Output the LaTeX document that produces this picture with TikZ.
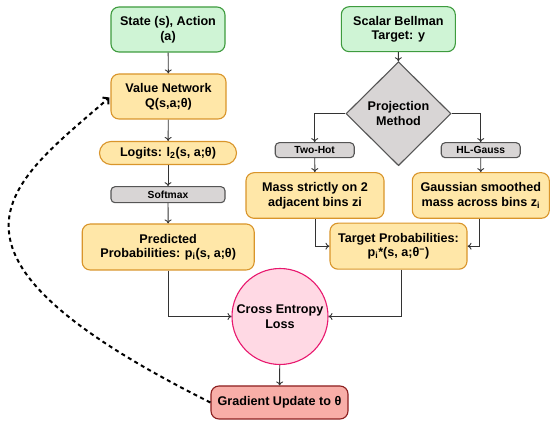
\documentclass[tikz,border=0pt]{standalone}
\usepackage{fontspec}
\setmainfont{Liberation Sans}
\usetikzlibrary{shapes.geometric,arrows.meta,calc}
\definecolor{gfill}{HTML}{CFF4D5}
\definecolor{gdraw}{HTML}{3E9B3E}
\definecolor{yfill}{HTML}{FFE7A8}
\definecolor{ydraw}{HTML}{D9952B}
\definecolor{kfill}{HTML}{D8D5D5}
\definecolor{kdraw}{HTML}{555555}
\definecolor{pfill}{HTML}{FFD9E4}
\definecolor{pdraw}{HTML}{E8186E}
\definecolor{rfill}{HTML}{F8AEA8}
\definecolor{rdraw}{HTML}{8B1E1E}
\definecolor{edge}{HTML}{333333}
\begin{document}
\begin{tikzpicture}[x=1pt,y=-1pt,
  base/.style={draw,line width=1.1pt,align=center,inner sep=0pt,
    font=\fontsize{12.6}{14.5}\selectfont\bfseries},
  greenbox/.style={base,fill=gfill,draw=gdraw,rounded corners=8pt},
  yellowbox/.style={base,fill=yfill,draw=ydraw,rounded corners=8pt},
  graybox/.style={base,fill=kfill,draw=kdraw,rounded corners=4pt,
    font=\fontsize{10.3}{12}\selectfont\bfseries},
  conn/.style={draw=edge,line width=0.9pt,-{To[length=4pt,width=7pt]}},
]
\useasboundingbox (0,0) rectangle (557,427);
% left column
\node[greenbox,minimum width=114pt,minimum height=45pt] (st) at (168,29.5) {State (s), Action\\(a)};
\node[yellowbox,minimum width=115pt,minimum height=45pt] (vn) at (168.5,96.5) {Value Network\\Q(s,a;θ)};
\node[yellowbox,rounded corners=11.5pt,minimum width=137pt,minimum height=23pt] (lg) at (168,153) {Logits: l\textsubscript{2}(s, a;θ)};
\node[graybox,minimum width=114pt,minimum height=16pt] (sm) at (168,194.7) {Softmax};
\node[yellowbox,minimum width=172pt,minimum height=46pt] (pp) at (168.2,247) {Predicted\\Probabilities: p\textsubscript{i}(s, a;θ)};
% right column
\node[greenbox,minimum width=114pt,minimum height=45pt] (sb) at (398.3,29.2) {Scalar Bellman\\Target: y};
\node[base,diamond,fill=kfill,draw=kdraw,minimum width=105pt,minimum height=104pt] (pm) at (398.5,113.7) {Projection\\Method};
\node[graybox,minimum width=79pt,minimum height=15pt] (th) at (314.7,150.2) {Two-Hot};
\node[graybox,minimum width=79pt,minimum height=15pt] (hl) at (480.7,150.2) {HL-Gauss};
\node[yellowbox,minimum width=138pt,minimum height=45.6pt] (ms) at (315,195.5) {Mass strictly on 2\\adjacent bins zi};
\node[yellowbox,minimum width=137pt,minimum height=45.6pt] (gs) at (480.8,195.5) {Gaussian smoothed\\mass across bins z\textsubscript{i}};
\node[yellowbox,minimum width=137pt,minimum height=46pt] (tp) at (398.5,246.2) {Target Probabilities:\\p\textsubscript{i}*(s, a;θ\textsuperscript{−})};
% bottom
\node[base,circle,fill=pfill,draw=pdraw,minimum size=96pt] (ce) at (280,316.5) {Cross Entropy\\Loss};
\node[base,fill=rfill,draw=rdraw,rounded corners=8pt,minimum width=137pt,minimum height=33pt] (gr) at (279.5,402.5) {Gradient Update to θ};
% connectors
\draw[conn] (st) -- (vn);
\draw[conn] (vn) -- (lg);
\draw[conn] (lg) -- (sm);
\draw[conn] (sm) -- (pp);
\draw[conn] (pp.south) |- (ce.west);
\draw[conn] ($(tp.south)+(3,0)$) |- (ce.east);
\draw[conn] (ce) -- (gr);
\draw[conn] (sb) -- (pm);
\draw[conn] (pm.west) -| (th.north);
\draw[conn] (pm.east) -| (hl.north);
\draw[conn] (th) -- (ms);
\draw[conn] (hl) -- (gs);
\draw[conn] (ms.south) |- (tp.west);
\draw[conn] ($(gs.south)+(-1.5,0)$) |- (tp.east);
\draw[line width=2pt,dash pattern=on 4pt off 3.5pt,-{Straight Barb[length=4pt,width=9pt]}]
  (gr.west) .. controls (-93,251) and (10,184) .. ($(vn.west)+(-1,1)$);
\end{tikzpicture}
\end{document}
